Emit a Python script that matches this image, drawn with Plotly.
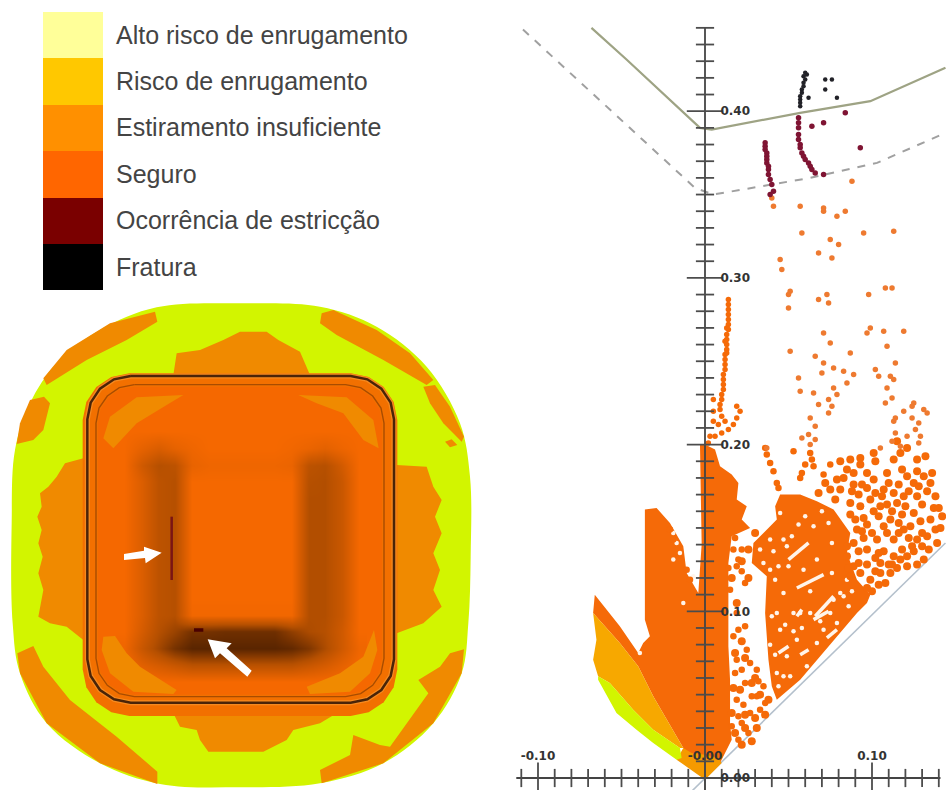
import plotly.graph_objects as go

# ---------- legend ----------
LEGEND_LABELS = ["Alto risco de enrugamento", "Risco de enrugamento", "Estiramento insuficiente",
                 "Seguro", "Ocorrência de estricção", "Fratura"]
LEGEND_COLORS = ["#ffff99", "#ffc800", "#ff9000", "#ff6600", "#7a0000", "#000000"]
LEGEND_VALUES = [1, 1, 1, 1, 1, 1]

# ---------- blank map (drawing units, y downward) ----------
BLANK = [(470,52),(720,40),(960,50),(1130,110),(1280,230),(1380,400),(1410,560),(1412,800),(1405,1000),(1385,1150),
         (1300,1300),(1150,1420),(960,1480),(720,1492),(480,1482),(300,1420),(140,1300),(60,1150),(38,1000),(35,700),
         (45,480),(90,340),(170,220),(300,120),(470,52)]
ORANGE_ZONES = [
    [(465,65),(472,95),(380,150),(260,210),(140,285),(130,265),(200,180),(330,100)],
    [(132,320),(150,340),(130,420),(100,450),(50,462),(60,400),(90,330)],
    [(965,70),(1000,60),(1130,120),(1230,190),(1300,270),(1280,285),(1150,210),(1010,135),(960,100)],
    [(1270,290),(1305,285),(1350,350),(1392,440),(1385,455),(1330,400),(1290,340)],
    [(530,190),(600,180),(670,150),(720,125),(800,125),(835,150),(900,185),(930,255),(520,255)],
    [(250,505),(195,520),(170,560),(145,590),(120,610),(125,650),(112,680),(125,720),(115,760),(128,800),(115,850),(130,900),
     (115,980),(150,1000),(200,1010),(250,1050)],
    [(1190,525),(1280,530),(1300,590),(1325,630),(1305,680),(1325,730),(1300,790),(1320,840),(1300,900),(1325,950),(1270,1000),(1190,1030)],
    [(520,1270),(1010,1270),(960,1300),(880,1320),(860,1350),(790,1385),(625,1385),(600,1350),(590,1320),(540,1310)],
    [(52,1090),(100,1068),(130,1130),(210,1230),(350,1340),(472,1445),(472,1482),(300,1420),(140,1300),(60,1150)],
    [(1350,1090),(1392,1078),(1385,1150),(1300,1300),(1150,1420),(965,1480),(960,1440),(1050,1395),(1060,1335),(1140,1365),(1170,1370),
     (1285,1210),(1255,1170),(1320,1130)],
    [(1335,455),(1355,448),(1372,465),(1350,472)],
]
RING_FILL = [(388,250),(1052,250),(1106,261),(1151,291),(1181,336),(1192,390),(1192,1138),(1181,1192),(1151,1237),(1106,1267),(1052,1278),
             (388,1278),(334,1267),(289,1237),(259,1192),(248,1138),(248,390),(259,336),(289,291),(334,261),(388,250)]
INNER_FILL = [(404,290),(1036,290),(1079,298),(1114,322),(1138,357),(1146,400),(1146,1104),(1138,1147),(1114,1182),(1079,1206),(1036,1214),
              (404,1214),(361,1206),(326,1182),(302,1147),(294,1104),(294,400),(302,357),(326,322),(361,298),(404,290)]
CORNER_ZONES = [
    [(310,445),(330,380),(410,322),(550,315),(500,345),(410,400),(340,475)],
    [(895,315),(1040,322),(1120,390),(1136,475),(1090,450),(1030,370),(950,340)],
    [(310,1040),(345,1038),(380,1090),(420,1130),(530,1200),(520,1212),(400,1205),(330,1150),(305,1080)],
    [(1122,1020),(1090,1100),(1020,1150),(920,1190),(930,1212),(1050,1205),(1110,1150),(1132,1080)],
]
DIE_LINE = [(392,258),(1052,258),(1102,268),(1144,296),(1172,338),(1182,388),(1182,1108),(1172,1158),(1144,1200),(1102,1228),(1052,1238),
            (392,1238),(342,1228),(300,1200),(272,1158),(262,1108),(262,388),(272,338),(300,296),(342,268),(392,258)]
PUNCH_LINE = [(403,284),(1037,284),(1082,293),(1118,318),(1143,354),(1152,399),(1152,1105),(1143,1150),(1118,1186),(1082,1211),(1037,1220),
              (403,1220),(358,1211),(322,1186),(297,1150),(288,1105),(288,399),(297,354),(322,318),(358,293),(403,284)]
NECK_MARK_A = [(515,680),(515,870)]
NECK_MARK_B = [(582,1020),(610,1020)]
ARROW_A = [(372,792),(432,782),(432,770),(485,788),(437,820),(435,804),(372,810)]
ARROW_B = [(755,1142),(680,1075),(695,1060),(623,1048),(645,1105),(660,1090),(742,1160)]
SHADE_X = [375,425,475,525,575,625,675,725,775,825,875,925,975,1025,1075]
SHADE_Y = [425,475,525,575,625,675,725,775,825,875,925,975,1025,1075,1125,1175]
SHADE_Z = [
 [0,0,0,0,0,0,0,0,0,0,0,0,0,0,0],
 [0,.12,.22,.12,.05,0,0,0,0,0,.03,.08,.14,.06,0],
 [0,.3,.5,.45,.1,.05,.05,.05,.05,.05,.08,.45,.5,.28,0],
 [0,.2,.45,.5,0,0,0,0,0,0,0,.5,.52,.35,0],
 [0,.2,.45,.5,0,0,0,0,0,0,0,.52,.52,.35,0],
 [0,.2,.45,.5,0,0,0,0,0,0,0,.52,.52,.35,0],
 [0,.2,.45,.5,0,0,0,0,0,0,0,.52,.52,.35,0],
 [0,.2,.45,.5,0,0,0,0,0,0,0,.52,.52,.35,0],
 [0,.2,.45,.5,0,0,0,0,0,0,0,.52,.52,.35,0],
 [0,.2,.45,.5,0,0,0,0,0,0,0,.52,.52,.35,0],
 [0,.2,.45,.5,0,0,0,0,0,0,0,.52,.52,.35,0],
 [0,.2,.45,.5,.03,.03,.03,.03,.03,.03,.03,.52,.52,.35,0],
 [0,.25,.5,.65,.85,.85,.88,.88,.88,.88,.7,.55,.5,.3,0],
 [.05,.35,.6,.85,1,1,1,1,1,1,.95,.8,.55,.3,.05],
 [0,.15,.25,.35,.45,.45,.45,.45,.45,.45,.45,.35,.25,.12,0],
 [0,0,0,0,0,0,0,0,0,0,0,0,0,0,0],
]

# ---------- forming limit diagram (strain values, per mille: minor, major) ----------
FLC = [(-68,450),(-47,431),(-3,390),(4,389),(57,399),(99,406),(144,426)]
FLC_MARGIN = [(-109,449),(-6,354),(5,350),(63,360),(103,369),(144,387)]
DIAGONAL = [(-8,-8),(144,141)]
LOWER_ORANGE = [(-13,18),(-8,15),(0,14),(8,12),(10,9),(1,0),(0,-1),(-17,11)]
WRINKLE_RISK = [(-67,99),(-51,81),(-40,67),(-31,49),(-13,18),(-15,18),(-31,29),(-43,41),(-57,57),(-64,61),(-67,71),(-65,83)]
HIGH_WRINKLE = [(-64,61),(-57,57),(-43,41),(-31,29),(-15,18),(-14,12),(-17,11),(-31,21),(-41,29),(-53,39),(-64,59)]
SAFE_LEFT = [(0,0),(-13,18),(-31,49),(-40,67),(-51,81),(-67,99),(-66,110),(-51,91),(-40,75),(-37,81),(-33,85),(-36,95),
             (-36,161),(-29,162),(-21,153),(-13,139),(-11,123),(-4,111),(-2,140),(-3,200),(0,200)]
SAFE_SPINE = [(0,200),(6,197),(9,187),(16,182),(20,177),(19,167),(25,163),(22,155),(27,150),(16,145),(14,129),(14,115),
              (14,93),(14,79),(15,59),(15,33),(16,23),(9,9),(0,0)]
SAFE_RIGHT = [(43,47),(57,59),(91,99),(97,105),(99,110),(91,119),(85,135),(87,147),(77,161),(67,166),(57,170),(45,170),(42,163),
              (43,155),(38,150),(29,141),(28,129),(37,121),(36,99),(38,71),(40,55)]
GAP_STREAKS = [[(50,131),(62,141)],[(55,114),(71,122)],[(66,97),(77,109)],[(65,95),(74,100)],[(57,74),(62,77)],
               [(55,97),(58,101)],[(44,75),(50,79)],[(73,84),(79,89)]]
GAP_POINTS = [(43,99),(45,89),(40,97),(57,99),(71,89),(49,73),(43,63),(55,83),(47,111),(42,119),(44,127),(50,127),(39,143),
              (77,107),(83,109),(63,99),(53,99),(79,93),(67,81),(61,67),(51,61),(47,61),(44,55),(47,143),(45,159),(56,152),
              (49,139),(41,136),(65,151),(74,153),(76,141),(67,131),(76,123),(85,119),(81,111),(-19,147),(-17,141),(-15,135),
              (-19,131),(-7,121),(-13,105),(-39,75),(39,125),(52,145),(60,157),(70,160),(35,129),(33,137),(59,125),(63,112),
              (48,92),(53,88),(39,80),(42,74),(58,90),(69,94),(75,99),(86,103),(88,112)]
SAFE_CLOUD = [(81,190),(87,191),(93,192),(101,195),(102,190),(113,191),(115,202),(121,198),(127,191),(132,193),(117,195),
              (79,179),(83,180),(89,183),(93,188),(85,185),(97,183),(101,179),(109,183),(110,177),(113,171),(107,173),(121,181),
              (127,184),(131,181),(136,183),(135,177),(125,177),(118,185),(75,173),(81,173),(89,176),(97,174),(102,171),(92,170),
              (99,167),(106,169),(115,165),(119,169),(127,169),(133,172),(138,169),(137,162),(87,165),(93,163),(101,160),(109,164),
              (111,155),(118,158),(125,159),(129,154),(135,155),(123,151),(138,149),(133,145),(87,158),(91,149),(97,152),(107,151),
              (103,143),(113,143),(119,149),(118,137),(127,143),(130,139),(121,133),(127,128),(85,139),(89,141),(95,144),(97,137),
              (107,136),(102,132),(113,133),(115,126),(111,123),(108,117),(105,129),(97,128),(93,123),(89,127),(85,133),(87,121),
              (99,119),(121,127),(100,112),(104,116),(112,128),(117,131),(125,136),(131,131),(134,137),(139,141),(141,150),(142,157),
              (140,162),(130,147),(122,144),(116,153),(104,157),(95,156),(105,123),
              (72,177),(68,171),(78,167),(88,172),(94,176),(105,163),(112,160),(120,163),(130,164),(128,175),(122,172),(116,176),
              (90,155),(94,148),(100,147),(109,147),(116,147),(124,139),(110,128),(104,135),(92,136),(92,129),(86,126),(102,124),(97,114),
              (26,137),(30,147),(22,130),(16,120),(26,120),(19,105),(22,82),(18,75),(24,72),(30,60),(21,53),(28,57),(33,50),(17,54),(38,47),
              (24,38),(30,36),(36,38),(18,27),(24,30),(16,39),(31,30),(28,22),(22,20)]
SAFE_TRAIL = [(36,198),(37,194),(39,189),(41,184),(43,177),(44,174),(63,195),(64,191),(65,187),(60,188),(58,183),(57,180),(53,196),(75,188),(71,182),
              (18,144),(22,137),(17,137),(19,127),(20,131),(14,126),(22,124),(24,117),(15,113),(19,99),(20,89),(24,91),(17,85),(25,77),
              (19,71),(27,69),(31,65),(22,65),(32,58),(18,63),(24,57),(35,55),(19,47),(23,44),(28,49),(36,45),(20,37),(27,39),(33,41),
              (16,31),(22,33),(26,27),(20,23),(31,49),(-21,149),(-19,143),(-11,125),(-9,119)]
SAFE_SPARSE = [(51,292),(50,282),(51,256),(68,287),(73,290),(74,285),(71,267),(75,261),(66,253),(71,249),(70,243),(77,246),(83,244),
               (87,255),(89,242),(85,237),(56,240),(57,232),(65,231),(77,234),(79,230),(74,227),(68,224),(76,223),(74,219),(63,216),
               (66,211),(62,206),(58,204),(66,203),(63,200),(37,198),(108,294),(112,294),(99,270),(97,267),(107,268),(119,268),(109,259),
               (114,249),(102,245),(104,241),(111,241),(113,239),(109,234),(112,228),(108,225),(125,225),(124,223),(119,220),(131,221),
               (133,219),(114,216),(113,214),(124,216),(128,213),(114,207),(121,205),(126,209),(129,205),(112,202),(128,201),(117,199),(105,198),
               (41,343),(45,311),(46,305),(50,290),(40,348),(57,343),(58,327),(71,340),(79,337),(84,340),(71,342),(75,323),(80,320),(76,312),(68,315),(88,358),
               (95,327),(98,290),(113,328)]
SAFE_STREAK = [(14,287),(14,284),(14,281),(14,278),(14,275),(14,272),(14,269),(13,266),(13,263),(13,260),(13,257),(12,254),(12,251),(12,248),
               (12,245),(11,242),(11,239),(11,236),(11,233),(10,230),(10,227),(9,224),(9,221),(10,217),(5,227),(5,220),(5,214),(19,223),(21,220),
               (19,216),(17,212),(14,209),(10,207),(6,205),(2,201),(13,270),(12,262),(13,255),(3,205),(8,212),(12,214)]
NECKING = [(36,381),(36,379),(36,377),(37,375),(37,373),(37,371),(37,369),(38,367),(38,365),(38,362),(39,359),(40,356),(41,352),(39,350),
           (56,396),(56,393),(56,390),(56,386),(56,383),(57,380),(57,378),(58,375),(59,373),(60,371),(62,369),(63,367),(64,365),(66,363),(71,362),
           (84,399),(64,391),(71,393),(93,378)]
FRACTURE = [(60,423),(61,422),(59,421),(60,419),(59,417),(59,415),(58,413),(58,411),(57,409),(57,407),(57,405),(57,403),(62,408),(72,419),(76,419),(72,413),(79,408)]
X_MINOR_TICKS = [-.11,-.09,-.08,-.07,-.06,-.05,-.04,-.03,-.02,-.01,.01,.02,.03,.04,.05,.06,.07,.08,.09,.11,.12,.13,.14]
X_MAJOR_TICKS = [-.10,0.0,.10]
X_TICK_TEXT = ["-0.10","-0.00","0.10"]
Y_MINOR_TICKS = [.01,.02,.03,.04,.05,.06,.07,.08,.09,.11,.12,.13,.14,.15,.16,.17,.18,.19,.21,.22,.23,.24,.25,.26,.27,.28,.29,
                 .31,.32,.33,.34,.35,.36,.37,.38,.39,.41,.42,.43,.44,.45]
Y_MAJOR_TICKS = [0.0,.10,.20,.30,.40]
Y_TICK_TEXT = ["0.00","0.10","0.20","0.30","0.40"]

W, H = 946, 790
SAFE_C = "#f56a08"
fig = go.Figure()

def area(pts, color, ax="x3", ay="y3", scale=1.0, smooth=False):
    fig.add_trace(go.Scatter(x=[p[0]*scale for p in pts], y=[p[1]*scale for p in pts], mode="lines",
                             fill="toself", fillcolor=color, line=dict(width=0, color=color, shape="spline" if smooth else "linear"),
                             xaxis=ax, yaxis=ay, hoverinfo="skip", showlegend=False))

def stroke(pts, color, width, ax="x3", ay="y3", scale=1.0, dash=None):
    fig.add_trace(go.Scatter(x=[p[0]*scale for p in pts], y=[p[1]*scale for p in pts], mode="lines",
                             line=dict(width=width, color=color, dash=dash),
                             xaxis=ax, yaxis=ay, hoverinfo="skip", showlegend=False))

def dots(pts, color, size, ax="x2", ay="y2"):
    fig.add_trace(go.Scatter(x=[p[0]/1000 for p in pts], y=[p[1]/1000 for p in pts], mode="markers",
                             marker=dict(color=color, size=size, line=dict(width=0)),
                             xaxis=ax, yaxis=ay, hoverinfo="skip", showlegend=False))

def tick_marks(xs, ys, symbol, size, width=1.8):
    fig.add_trace(go.Scatter(x=xs, y=ys, mode="markers", xaxis="x2", yaxis="y2", hoverinfo="skip", showlegend=False,
                             marker=dict(symbol=symbol, size=size, color="#4c4c4c", line=dict(width=width, color="#4c4c4c"))))

# legend bar
fig.add_trace(go.Bar(y=LEGEND_LABELS, x=LEGEND_VALUES, orientation="h", marker=dict(color=LEGEND_COLORS, line=dict(width=0)),
                     width=1, xaxis="x5", yaxis="y5", hoverinfo="skip", showlegend=False))

# map base
area(BLANK, "#d2f500", smooth=True)
for z in ORANGE_ZONES:
    area(z, "#f08a00")
area(RING_FILL, "#f27000")
area(INNER_FILL, "#f56800")

# map shading and details on an overlaid subplot
fig.add_trace(go.Heatmap(x=SHADE_X, y=SHADE_Y, z=SHADE_Z, zmin=0, zmax=1, zsmooth="best", showscale=False, hoverinfo="skip",
                         colorscale=[[0,"#f56800"],[.5,"#b65000"],[1,"#5a2500"]], xaxis="x4", yaxis="y4"))
for z in CORNER_ZONES:
    area(z, "#f08a00", "x4", "y4")
stroke(DIE_LINE, "#f58a20", 5, "x4", "y4")
stroke(DIE_LINE, "#4a2408", 2.5, "x4", "y4")
stroke(PUNCH_LINE, "#a84c00", 1.4, "x4", "y4")
stroke(NECK_MARK_A, "#7a1414", 2.5, "x4", "y4")
stroke(NECK_MARK_B, "#4a0000", 3.5, "x4", "y4")
area(ARROW_A, "#ffffff", "x4", "y4")
area(ARROW_B, "#ffffff", "x4", "y4")

# FLD
S = 0.001
stroke(DIAGONAL, "#b4c0cc", 1.6, "x2", "y2", S)
area(SAFE_LEFT, SAFE_C, "x2", "y2", S)
area(SAFE_SPINE, SAFE_C, "x2", "y2", S)
area(SAFE_RIGHT, SAFE_C, "x2", "y2", S)
area(LOWER_ORANGE, "#f59a00", "x2", "y2", S)
area(WRINKLE_RISK, "#f7a800", "x2", "y2", S)
area(HIGH_WRINKLE, "#d2f500", "x2", "y2", S)
for g in GAP_STREAKS:
    stroke(g, "#fff4ea", 3.5, "x2", "y2", S)
dots(GAP_POINTS, "#fff4ea", 4.5)
dots(SAFE_CLOUD, SAFE_C, 8)
dots(SAFE_TRAIL, SAFE_C, 6.5)
dots(SAFE_STREAK, SAFE_C, 5.5)
dots(SAFE_SPARSE, "#ee7a30", 5.5)
stroke(FLC, "#9ea384", 2.2, "x2", "y2", S)
stroke(FLC_MARGIN, "#a0a0a0", 2, "x2", "y2", S, dash="8px,8px")
dots(NECKING, "#7f1433", 5.5)
dots(FRACTURE, "#222228", 4.5)

# axes drawn through the origin
stroke([(0,450),(0,-8)], "#444", 1.8, "x2", "y2", S)
stroke([(-113,0),(141,0)], "#444", 1.8, "x2", "y2", S)
tick_marks([0]*len(Y_MINOR_TICKS), Y_MINOR_TICKS, "line-ew", 13)
tick_marks([0]*len(Y_MAJOR_TICKS), Y_MAJOR_TICKS, "line-ew", 26)
tick_marks(X_MINOR_TICKS, [0]*len(X_MINOR_TICKS), "line-ns", 13)
tick_marks(X_MAJOR_TICKS, [0]*len(X_MAJOR_TICKS), "line-ns", 22)

hidden = dict(visible=False, fixedrange=True)
map_x = dict(domain=[0, 480/W], range=[0, 1440], **hidden)
map_y = dict(domain=[0, 500/H], range=[1500, 0], **hidden)
tickfont = dict(family="DejaVu Sans", size=12, color="#333", weight="bold")
fig.update_layout(
    width=W, height=H, margin=dict(l=0, r=0, t=0, b=0), autosize=False,
    paper_bgcolor="white", plot_bgcolor="rgba(0,0,0,0)", bargap=0,
    xaxis3=dict(anchor="y3", **map_x), yaxis3=dict(anchor="x3", **map_y),
    xaxis4=dict(anchor="y4", overlaying="x3", range=[0, 1440], **hidden),
    yaxis4=dict(anchor="x4", overlaying="y3", range=[1500, 0], **hidden),
    xaxis5=dict(anchor="y5", domain=[43/W, 103/W], range=[0, 1], **hidden),
    yaxis5=dict(anchor="x5", domain=[1-290/H, 1-11.7/H], autorange="reversed", side="right", showgrid=False, zeroline=False,
                showline=False, ticks="outside", ticklen=7, tickcolor="rgba(0,0,0,0)", fixedrange=True,
                tickfont=dict(family="Liberation Sans", size=25, color="#444")),
    xaxis2=dict(domain=[510/W, 1], range=[(510-705)/1670, (946-705)/1670], anchor="free", position=12/H, side="top",
                showgrid=False, zeroline=False, showline=False, tickmode="array", tickvals=X_MAJOR_TICKS, ticktext=X_TICK_TEXT,
                ticks="outside", ticklen=13, tickcolor="rgba(0,0,0,0)", tickfont=tickfont, tickangle=0, fixedrange=True),
    yaxis2=dict(domain=[0, 1], range=[(778-790)/1667, 778/1667], anchor="free", position=705/W, side="right",
                showgrid=False, zeroline=False, showline=False, tickmode="array", tickvals=Y_MAJOR_TICKS, ticktext=Y_TICK_TEXT,
                ticks="outside", ticklen=12, tickcolor="rgba(0,0,0,0)", tickfont=tickfont, fixedrange=True),
)
fig.write_html("out.html", config={"displayModeBar": False},
               post_script="document.body.style.margin='0';document.body.style.overflow='hidden';")
